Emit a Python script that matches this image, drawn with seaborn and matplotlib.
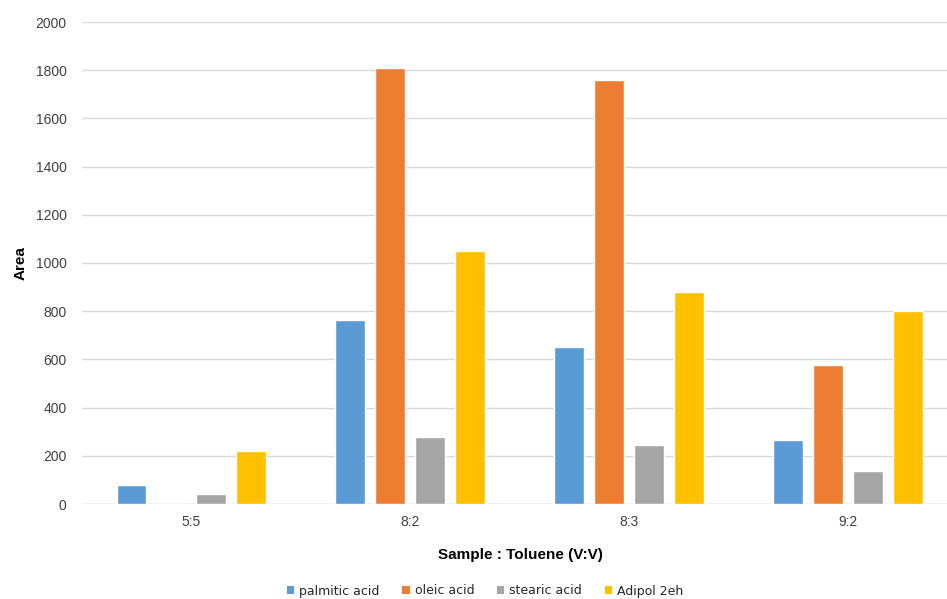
import matplotlib
matplotlib.use("Agg")
import matplotlib.pyplot as plt
import seaborn as sns
import pandas as pd

# Sample ratios and measured peak areas per compound
samples = ["5:5", "8:2", "8:3", "9:2"]
compounds = ["palmitic acid", "oleic acid", "stearic acid", "Adipol 2eh"]
palmitic = [80, 765, 650, 265]
oleic = [0, 1810, 1760, 575]
stearic = [40, 278, 245, 135]
adipol = [220, 1050, 880, 800]
yticks = [0, 200, 400, 600, 800, 1000, 1200, 1400, 1600, 1800, 2000]

colors = ["#5B9BD5", "#ED7D31", "#A5A5A5", "#FFC000"]

rows = []
for name, vals in zip(compounds, [palmitic, oleic, stearic, adipol]):
    for s, v in zip(samples, vals):
        rows.append({"Sample": s, "Compound": name, "Area": v})
df = pd.DataFrame(rows)

sns.set_theme(style="white")
plt.rcParams["font.family"] = ["Liberation Sans", "DejaVu Sans"]

fig = plt.figure(figsize=(9.47, 5.99), dpi=100)
ax = fig.add_axes([82 / 947, (599 - 504) / 599, (957.5 - 82) / 947, (504 - 22) / 599])

sns.barplot(data=df, x="Sample", y="Area", hue="Compound", order=samples,
            hue_order=compounds, palette=colors, width=0.73, gap=0.25,
            saturation=1, legend=False, ax=ax, zorder=3)

ax.set_xlim(-0.5, 3.5)
ax.set_ylim(0, 2000)
ax.set_yticks(yticks)
ax.yaxis.grid(True, color="#D9D9D9", linewidth=1.0, zorder=0)
ax.set_axisbelow(True)
for side in ["top", "right", "left", "bottom"]:
    ax.spines[side].set_visible(False)
ax.axhline(0, color="#D9D9D9", linewidth=1.0, zorder=1)
ax.tick_params(axis="both", length=0, labelsize=10, colors="#404040")
ax.tick_params(axis="y", pad=11)
ax.tick_params(axis="x", pad=8)

ax.set_ylabel("Area", fontsize=11, fontweight="bold", color="#000000", labelpad=6)
ax.set_xlabel("Sample : Toluene (V:V)", fontsize=11, fontweight="bold",
              color="#000000", labelpad=12)
ax.xaxis.set_label_coords((520 - 82) / (957.5 - 82), -(548 - 504) / (504 - 22))

handles = [plt.Rectangle((0, 0), 1, 1, facecolor=c, edgecolor="none") for c in colors]
fig.legend(handles, compounds, loc="center", bbox_to_anchor=(485 / 947, 1 - 591 / 599),
           ncol=4, frameon=False, handlelength=0.6, handleheight=0.6,
           handletextpad=0.4, columnspacing=1.8,
           prop={"family": ["DejaVu Sans"], "size": 9})

fig.savefig("out.png", dpi=100)
